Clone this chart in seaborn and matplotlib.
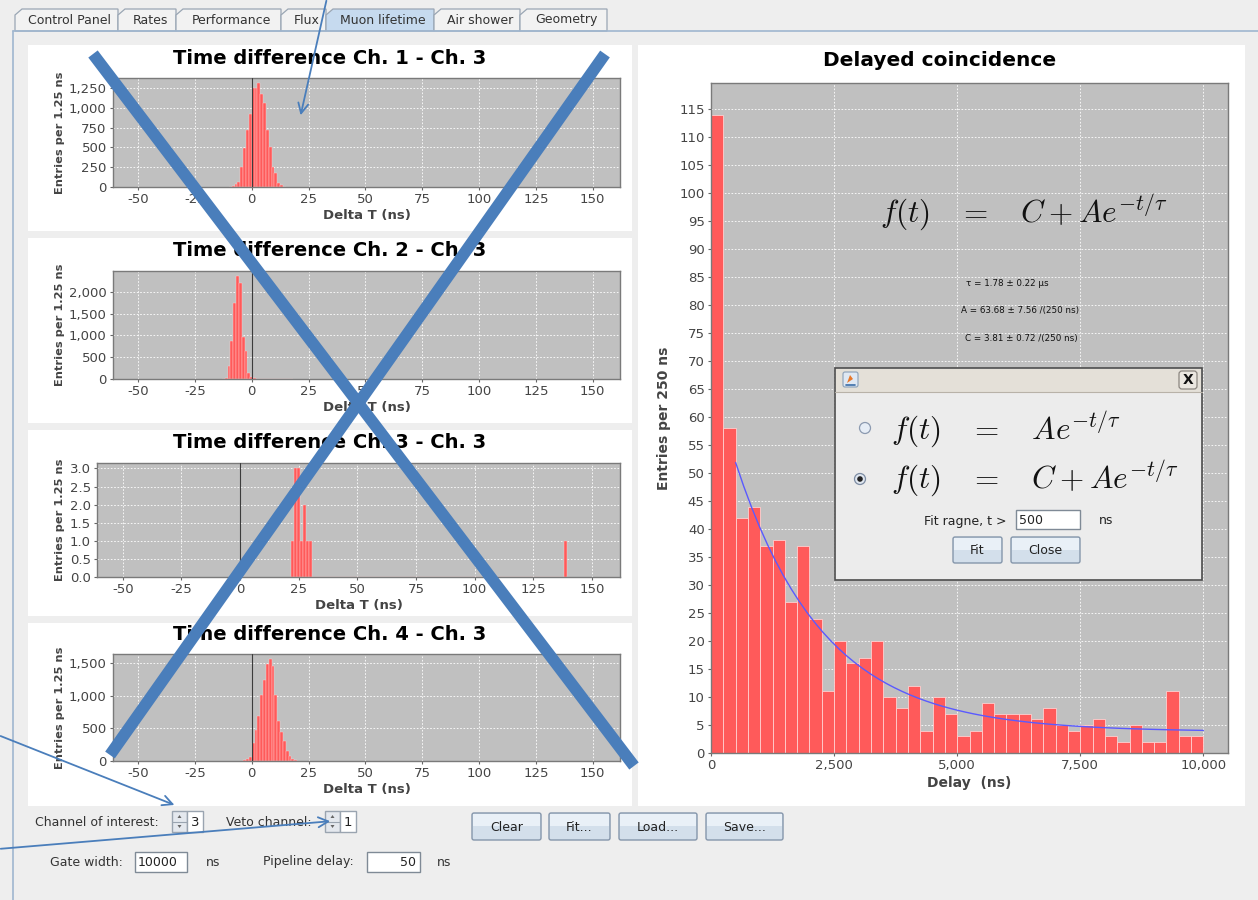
import numpy as np
import pandas as pd
import matplotlib
matplotlib.use('Agg')
import matplotlib.pyplot as plt
import seaborn as sns
from matplotlib.patches import Rectangle, Polygon, Circle, FancyBboxPatch
from matplotlib.ticker import FuncFormatter

sns.set_style('white')
plt.rcParams['font.family'] = ['DejaVu Sans']
plt.rcParams['mathtext.fontset'] = 'cm'
plt.rcParams['axes.unicode_minus'] = False

# ---------------- data ----------------
delay_counts = [114, 58, 42, 44, 37, 38, 27, 37, 24, 11,
                20, 16, 17, 20, 10, 8, 12, 4, 10, 7,
                3, 4, 9, 7, 7, 7, 6, 8, 5, 4,
                5, 6, 3, 2, 5, 2, 2, 11, 3, 3]
delay_bin_ns = 250
fit_tau_ns = 1780.0
fit_A = 63.68
fit_C = 3.81
fit_start_ns = 500

dt1_centers = [-9.375, -8.125, -6.875, -5.625, -4.375, -3.125, -1.875, -0.625, 0.625, 1.875,
               3.125, 4.375, 5.625, 6.875, 8.125, 9.375, 10.625, 11.875, 13.125, 14.375]
dt1_counts = [5, 12, 34, 63, 250, 497, 724, 917, 1250, 1250,
              1313, 1178, 1060, 724, 505, 255, 177, 55, 20, 5]

dt2_centers = [-12.5, -11.25, -10.0, -8.75, -7.5, -6.25, -5.0, -3.75, -2.5, -1.25,
               0.0, 1.25, 2.5, 3.75, 11.25, 12.5, 16.25, 17.5]
dt2_counts = [8, 20, 290, 870, 1740, 2360, 2200, 960, 650, 130,
              40, 20, 10, 5, 5, 3, 3, 2]

dt3_centers = [22.5, 23.75, 25.0, 26.25, 27.5, 28.75, 30.0, 138.75]
dt3_counts = [1, 3, 3, 1, 2, 1, 1, 1]

dt4_centers = [-3.125, -1.875, -0.625, 0.625, 1.875, 3.125, 4.375, 5.625, 6.875, 8.125,
               9.375, 10.625, 11.875, 13.125, 14.375, 15.625, 16.875, 18.125, 19.375]
dt4_counts = [10, 36, 62, 270, 477, 685, 1022, 1250, 1490, 1567,
              1463, 1022, 620, 440, 300, 150, 70, 30, 10]

small_titles = ['Time difference Ch. 1 - Ch. 3', 'Time difference Ch. 2 - Ch. 3',
                'Time difference Ch. 3 - Ch. 3', 'Time difference Ch. 4 - Ch. 3']
tab_labels = ['Control Panel', 'Rates', 'Performance', 'Flux', 'Muon lifetime', 'Air shower', 'Geometry']

# ---------------- figure ----------------
W, H = 1258, 900
fig = plt.figure(figsize=(W / 100, H / 100), dpi=100, facecolor='#eeeeee')

bg = fig.add_axes([0, 0, 1, 1], zorder=0)
bg.set_xlim(0, W); bg.set_ylim(H, 0); bg.axis('off')
ov = fig.add_axes([0, 0, 1, 1], zorder=20)
ov.set_xlim(0, W); ov.set_ylim(H, 0); ov.axis('off'); ov.patch.set_alpha(0)


def add_ax(x, y, w, h, z=2):
    return fig.add_axes([x / W, 1 - (y + h) / H, w / W, h / H], zorder=z)


def rect(a, x, y, w, h, fc, ec='none', lw=1, z=1):
    a.add_patch(Rectangle((x, y), w, h, facecolor=fc, edgecolor=ec, linewidth=lw, zorder=z))


def button(a, x, y, w, h, label, z=3, fs=9):
    a.add_patch(FancyBboxPatch((x, y), w, h, boxstyle='round,pad=0,rounding_size=2',
                               facecolor='#d3dfeb', edgecolor='#8596ab', linewidth=1, zorder=z))
    a.add_patch(Rectangle((x + 1, y + 1), w - 2, h * 0.45, facecolor='#e9f0f7', edgecolor='none', zorder=z))
    a.text(x + w / 2, y + h / 2 + 1, label, ha='center', va='center', fontsize=fs, color='#222222', zorder=z + 1)


def textbox(a, x, y, w, h, label, ha='left', z=3, fs=9):
    rect(a, x, y, w, h, 'white', '#7f8a96', 1, z)
    tx = x + 3 if ha == 'left' else x + w - 4
    a.text(tx, y + h / 2 + 1, label, ha=ha, va='center', fontsize=fs, color='#222222', zorder=z + 1)


def spinner(a, x, y, label):
    rect(a, x, y, 15, 21, '#e4e8ee', '#9aa4b0', 1, 3)
    a.plot([x, x + 15], [y + 10.5, y + 10.5], color='#9aa4b0', lw=0.8, zorder=4)
    a.add_patch(Polygon([[x + 5.5, y + 7], [x + 9.5, y + 7], [x + 7.5, y + 4]], closed=True, fc='#666', ec='none', zorder=4))
    a.add_patch(Polygon([[x + 5.5, y + 14], [x + 9.5, y + 14], [x + 7.5, y + 17]], closed=True, fc='#666', ec='none', zorder=4))
    rect(a, x + 15, y, 16, 21, 'white', '#9aa4b0', 1, 3)
    a.text(x + 27, y + 11, label, ha='right', va='center', fontsize=9.5, color='#222', zorder=5)


# ---- tabs & frame ----
tab_x = [(15, 118), (118, 176), (176, 281), (281, 326), (326, 434), (434, 520), (520, 607)]
for (x0, x1), lab in zip(tab_x, tab_labels):
    sel = lab == 'Muon lifetime'
    fc = '#c6daef' if sel else '#f2f2f2'
    bg.add_patch(Polygon([[x0, 31], [x0, 15], [x0 + 7, 9], [x1, 9], [x1, 31]], closed=True,
                         facecolor=fc, edgecolor='#9aa6b4', linewidth=0.9, zorder=2))
    bg.text((x0 + x1) / 2 + 3, 20, lab, ha='center', va='center', fontsize=9, color='#333333', zorder=3)
bg.plot([13, W], [31, 31], color='#9fb6cf', lw=1.2, zorder=3)
bg.plot([13, 13], [31, H], color='#9fb6cf', lw=1.2, zorder=3)

# ---- white chart panels ----
for (py, ph) in [(45, 186), (238, 185), (430, 186), (623, 183)]:
    rect(bg, 28, py, 604, ph, 'white', 'none', 0, 1)
rect(bg, 638, 45, 607, 761, 'white', 'none', 0, 1)

# ---- styling helpers ----
def style_ax(ax, ls=9.5):
    ax.set_facecolor('#c0c0c0')
    for s in ax.spines.values():
        s.set_visible(True)
        s.set_color('#7a7a7a')
        s.set_linewidth(1)
    ax.grid(True, color='white', linestyle=(0, (2, 2)), linewidth=0.6)
    ax.set_axisbelow(True)
    ax.tick_params(axis='both', which='both', direction='out', colors='#666666',
                   labelcolor='#444444', labelsize=ls, length=2.5, width=0.8, pad=2,
                   bottom=True, left=True)


comma_fmt = FuncFormatter(lambda v, p: f'{v:,.0f}')
dec_fmt = FuncFormatter(lambda v, p: f'{v:.1f}')
bar_color = '#ff5a5a'

small_specs = [
    (dt1_centers, dt1_counts, (113, 78, 507, 109), [0, 250, 500, 750, 1000, 1250], comma_fmt, 58),
    (dt2_centers, dt2_counts, (113, 271, 507, 108), [0, 500, 1000, 1500, 2000], comma_fmt, 250),
    (dt3_centers, dt3_counts, (97, 463, 523, 114), [0, 0.5, 1.0, 1.5, 2.0, 2.5, 3.0], dec_fmt, 443),
    (dt4_centers, dt4_counts, (113, 654, 507, 107), [0, 500, 1000, 1500], comma_fmt, 635),
]

for (cen, cnt, r, yt, fmt, ty), title in zip(small_specs, small_titles):
    ax = add_ax(*r)
    style_ax(ax)
    df = pd.DataFrame({'dt': np.asarray(cen, dtype=float), 'n': np.asarray(cnt, dtype=float)})
    edges = np.arange(df['dt'].min() - 0.625, df['dt'].max() + 0.625 + 1e-6, 1.25).tolist()
    sns.histplot(data=df, x='dt', weights='n', bins=edges, ax=ax, color=bar_color, alpha=1,
                 edgecolor='#ffd0d0', linewidth=0.3)
    ax.axvline(0, color='#3c3c3c', lw=0.8, zorder=3)
    ax.set_xlim(-61, 162)
    ax.set_ylim(0, max(cnt) * 1.05)
    ax.set_xticks([-50, -25, 0, 25, 50, 75, 100, 125, 150])
    ax.set_yticks(yt)
    ax.yaxis.set_major_formatter(fmt)
    ax.set_xlabel('Delta T (ns)', fontsize=9.5, fontweight='bold', color='#444444', labelpad=2)
    ax.set_ylabel('Entries per 1.25 ns', fontsize=8.2, fontweight='bold', color='#444444', labelpad=3)
    bg.text(330, ty, title, ha='center', va='center', fontsize=14, fontweight='bold', color='black', zorder=3)

# ---- main chart ----
axm = add_ax(711, 83, 517, 670)
style_ax(axm, ls=9.5)
dedges = np.arange(0, delay_bin_ns * len(delay_counts) + 1, delay_bin_ns)
ddf = pd.DataFrame({'delay': (dedges[:-1] + dedges[1:]) / 2, 'n': np.asarray(delay_counts, dtype=float)})
sns.histplot(data=ddf, x='delay', weights='n', bins=dedges.tolist(), ax=axm, color=bar_color, alpha=1,
             edgecolor='#ffd0d0', linewidth=0.6)
t_fit = np.linspace(fit_start_ns, dedges[-1], 60)
sns.lineplot(x=t_fit, y=fit_C + fit_A * np.exp(-t_fit / fit_tau_ns), ax=axm, color='#5a5aff', lw=1)
axm.set_xlim(0, 10500)
axm.set_ylim(0, max(delay_counts) * 1.05)
axm.set_xticks([0, 2500, 5000, 7500, 10000])
axm.set_yticks(np.arange(0, 116, 5))
axm.xaxis.set_major_formatter(comma_fmt)
axm.set_xlabel('Delay  (ns)', fontsize=10, fontweight='bold', color='#444444', labelpad=3)
axm.set_ylabel('Entries per 250 ns', fontsize=10, fontweight='bold', color='#444444', labelpad=6)
bg.text(940, 60, 'Delayed coincidence', ha='center', va='center', fontsize=14.5, fontweight='bold', color='black', zorder=3)

# formula & fit parameters on chart
ov.text(880, 213, r'$f(t)\quad=\quad C+Ae^{-t/\tau}$', ha='left', va='center', fontsize=22.5, color='#111111', zorder=2)
ov.text(1007, 284, 'τ = 1.78 ± 0.22 μs', ha='center', va='center', fontsize=6.3, color='#111111', zorder=2)
ov.text(1020, 311, 'A = 63.68 ± 7.56 /(250 ns)', ha='center', va='center', fontsize=6.3, color='#111111', zorder=2)
ov.text(1021, 338, 'C = 3.81 ± 0.72 /(250 ns)', ha='center', va='center', fontsize=6.3, color='#111111', zorder=2)

# ---- fit dialog ----
dx0, dy0, dw, dh = 835, 368, 367, 212
rect(ov, dx0, dy0, dw, dh, '#ececec', '#4d4d4d', 1.2, 5)
rect(ov, dx0 + 1, dy0 + 1, dw - 2, 23, '#e4e0d8', 'none', 0, 6)
ov.plot([dx0, dx0 + dw], [dy0 + 24, dy0 + 24], color='#b8b2a8', lw=0.8, zorder=7)
ov.add_patch(FancyBboxPatch((843, 372), 15, 15, boxstyle='round,pad=0,rounding_size=2',
                            fc='#dfe8f3', ec='#8aa0b8', lw=0.8, zorder=7))
ov.add_patch(Polygon([[847, 383], [850, 375], [853, 379]], closed=True, fc='#e8782a', ec='none', zorder=8))
ov.plot([846, 855], [384.5, 384.5], color='#3b6ea8', lw=1.2, zorder=8)
ov.add_patch(FancyBboxPatch((1179, 371), 18, 18, boxstyle='round,pad=0,rounding_size=3',
                            fc='#ebe7e0', ec='#8b8680', lw=0.9, zorder=7))
ov.text(1188, 380.5, 'X', ha='center', va='center', fontsize=10, fontweight='bold', color='#111', zorder=8)
ov.add_patch(Circle((865, 428), 5.5, fc='#e6edf6', ec='#8c9ab0', lw=0.9, zorder=7))
ov.add_patch(Circle((860, 479), 5.5, fc='#dfe6ef', ec='#7d8ca3', lw=0.9, zorder=7))
ov.add_patch(Circle((860, 479), 2.8, fc='#222222', ec='none', zorder=8))
ov.text(891, 430, r'$f(t)\quad=\quad Ae^{-t/\tau}$', ha='left', va='center', fontsize=22.5, color='#111', zorder=8)
ov.text(891, 479, r'$f(t)\quad=\quad C+Ae^{-t/\tau}$', ha='left', va='center', fontsize=22.5, color='#111', zorder=8)
ov.text(1007, 521, 'Fit ragne, t >', ha='right', va='center', fontsize=9, color='#222', zorder=8)
textbox(ov, 1016, 510, 64, 19, '500', z=8)
ov.text(1106, 521, 'ns', ha='center', va='center', fontsize=9, color='#222', zorder=8)
button(ov, 953, 537, 49, 26, 'Fit', z=8)
button(ov, 1011, 537, 69, 26, 'Close', z=8)

# ---- bottom controls ----
bg.text(97, 822, 'Channel of interest:', ha='center', va='center', fontsize=9, color='#333')
spinner(bg, 172, 811, '3')
bg.text(269, 822, 'Veto channel:', ha='center', va='center', fontsize=9, color='#333')
spinner(bg, 325, 811, '1')
for lab, x0, x1 in [('Clear', 472, 541), ('Fit...', 549, 610), ('Load...', 619, 697), ('Save...', 706, 783)]:
    button(bg, x0, 813, x1 - x0, 27, lab)
bg.text(86, 862, 'Gate width:', ha='center', va='center', fontsize=9, color='#333')
textbox(bg, 135, 852, 52, 20, '10000', ha='left')
bg.text(213, 862, 'ns', ha='center', va='center', fontsize=9, color='#333')
bg.text(308, 862, 'Pipeline delay:', ha='center', va='center', fontsize=9, color='#333')
textbox(bg, 367, 852, 53, 20, '50', ha='right')
bg.text(444, 862, 'ns', ha='center', va='center', fontsize=9, color='#333')

# ---- blue X and annotation arrows ----
xblue = '#4a7ebb'
ov.plot([93, 634], [54, 766], color=xblue, lw=8.5, solid_capstyle='butt', zorder=12)
ov.plot([605, 110], [54, 755], color=xblue, lw=8.5, solid_capstyle='butt', zorder=12)
arrow_kw = dict(arrowstyle='->', color=xblue, lw=1.3, mutation_scale=18)
ov.annotate('', xy=(300, 118), xytext=(327, -2), arrowprops=arrow_kw, zorder=12)
ov.annotate('', xy=(177, 806), xytext=(-2, 735), arrowprops=arrow_kw, zorder=12)
ov.annotate('', xy=(333, 821), xytext=(-2, 849), arrowprops=arrow_kw, zorder=12)

fig.savefig('out.png', dpi=100, facecolor=fig.get_facecolor())
